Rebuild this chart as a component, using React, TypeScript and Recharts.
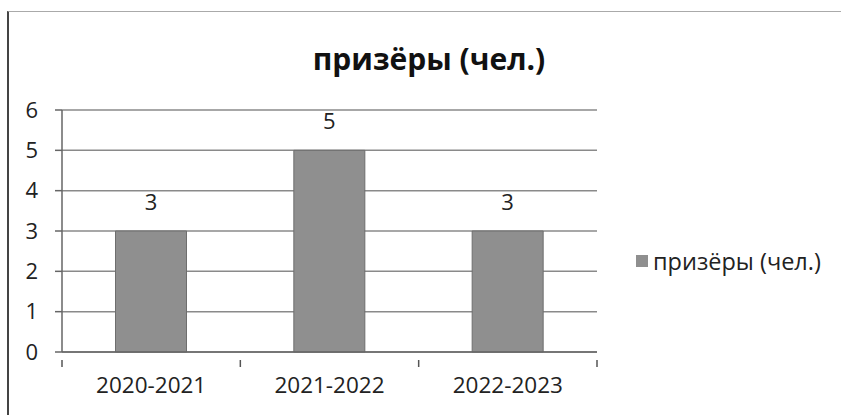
import React from 'react';
import { BarChart, Bar, XAxis, YAxis, CartesianGrid, LabelList } from 'recharts';

const categories = ['2020-2021', '2021-2022', '2022-2023'];
const winners = [3, 5, 3];
const yTicks = [0, 1, 2, 3, 4, 5, 6];

const seriesName = 'призёры (чел.)';
const title = 'призёры (чел.)';

const W = 841;
const H = 415;
const M = { top: 110, right: 244, bottom: 0, left: 0 };
const Y_W = 62;
const X_H = 63;
const FONT = '"Open Sans", "Noto Sans", sans-serif';

const data = categories.map((c, i) => ({ name: c, value: winners[i] }));
const halfBand = (W - M.left - M.right - Y_W) / categories.length / 2;

const XTick = (props: any) => {
  const { x, y, payload, index } = props;
  return (
    <g>
      <line x1={x - halfBand} x2={x - halfBand} y1={y} y2={y + 7} stroke="#555" strokeWidth={1.5} />
      {index === categories.length - 1 && (
        <line x1={x + halfBand} x2={x + halfBand} y1={y} y2={y + 7} stroke="#555" strokeWidth={1.5} />
      )}
      <text x={x} y={y + 33} textAnchor="middle" fontSize={22.5} fill="#222" fontFamily={FONT}>
        {payload.value}
      </text>
    </g>
  );
};

export default function App() {
  return (
    <div style={{ position: 'absolute', left: 0, top: 0, width: W, height: H, background: '#fff', overflow: 'hidden', fontFamily: FONT }}>
      <div style={{ position: 'absolute', left: 7, top: 11, width: W, height: H, borderLeft: '2px solid #444', borderTop: '1px solid #aaa' }} />
      <div style={{ position: 'absolute', left: 0, width: 858, top: 38, textAlign: 'center', fontSize: 30, fontWeight: 700, color: '#111' }}>
        {title}
      </div>
      <div style={{ position: 'absolute', left: 636, top: 245, display: 'flex', alignItems: 'center', fontSize: 23.5, color: '#222' }}>
        <span style={{ display: 'inline-block', width: 12, height: 12, background: '#8f8f8f', marginRight: 5 }} />
        {seriesName}
      </div>
      <BarChart width={W} height={H} data={data} margin={M} barCategoryGap="30%">
        <CartesianGrid vertical={false} stroke="#8a8a8a" strokeWidth={1.5} />
        <XAxis
          dataKey="name"
          height={X_H}
          axisLine={{ stroke: '#666', strokeWidth: 1.5 }}
          tickLine={false}
          tick={<XTick />}
          interval={0}
        />
        <YAxis
          width={Y_W}
          domain={[0, 6]}
          ticks={yTicks}
          tickSize={7}
          tickMargin={17}
          axisLine={{ stroke: '#666', strokeWidth: 1.5 }}
          tickLine={{ stroke: '#666', strokeWidth: 1.5 }}
          tick={{ fontSize: 22, fill: '#222', fontFamily: FONT }}
        />
        <Bar dataKey="value" name={seriesName} fill="#8f8f8f" stroke="#6e6e6e" strokeWidth={1} isAnimationActive={false}>
          <LabelList dataKey="value" position="top" offset={21} fontSize={22} fill="#222" fontFamily={FONT} />
        </Bar>
      </BarChart>
    </div>
  );
}
